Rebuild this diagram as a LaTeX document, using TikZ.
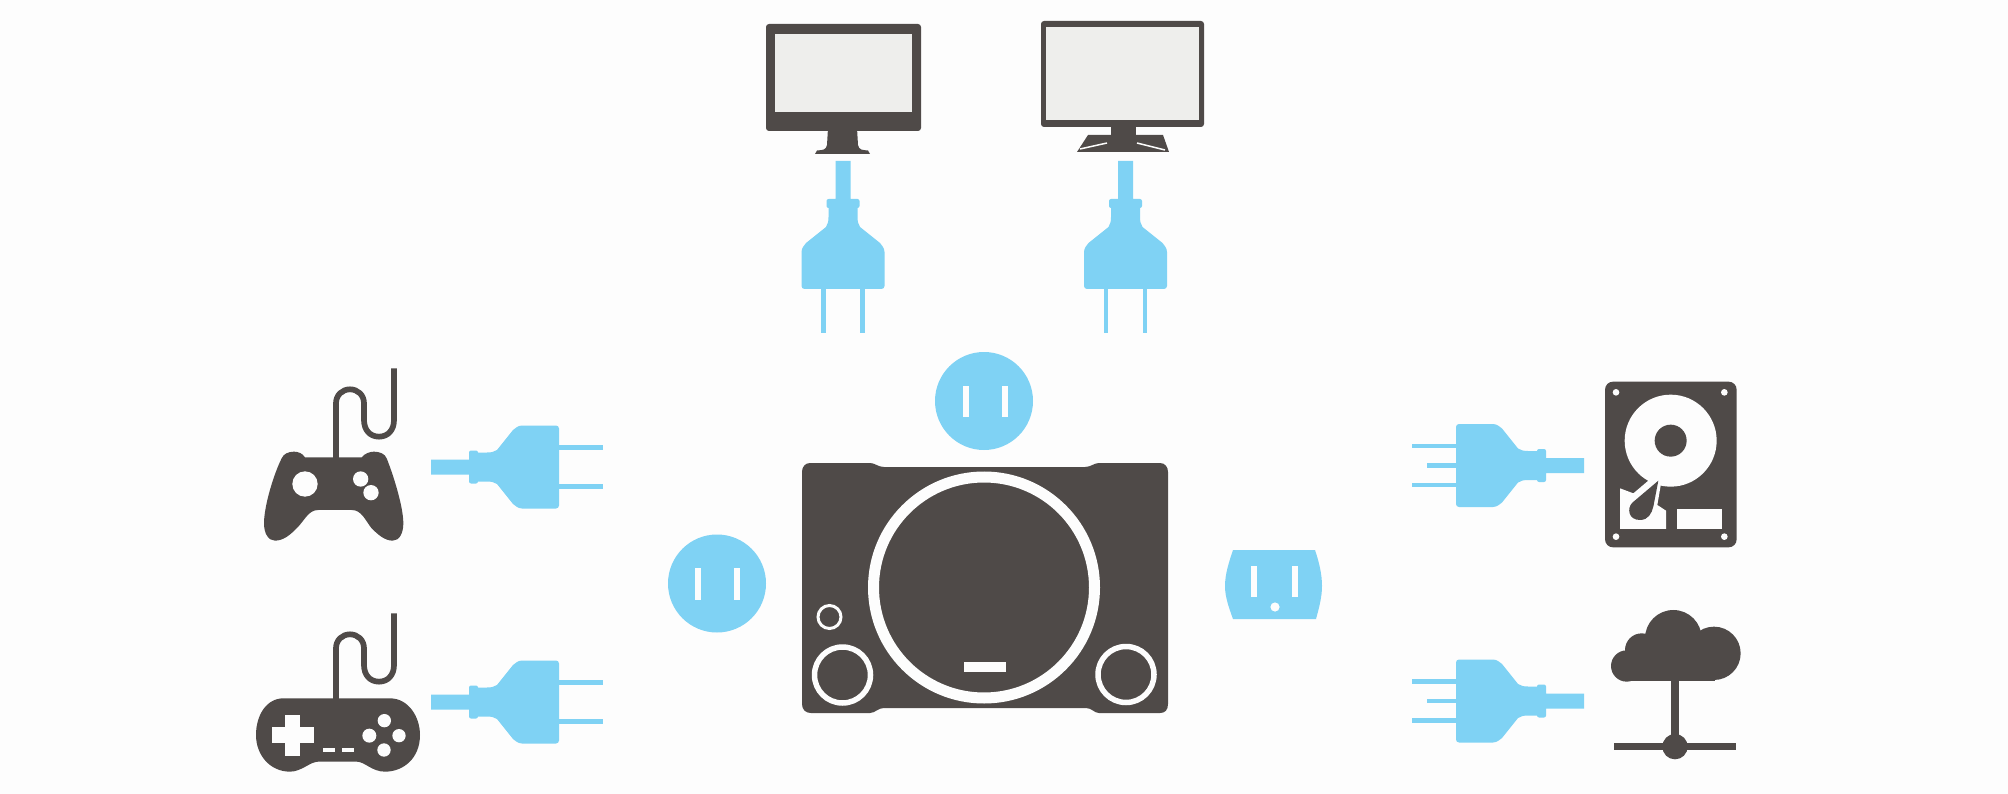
\documentclass[tikz,border=0pt]{standalone}
\definecolor{bgc}{HTML}{FDFDFD}
\definecolor{blu}{HTML}{7FD2F4}
\definecolor{drk}{HTML}{4F4A48}
\definecolor{scr}{HTML}{EEEEEC}
\tikzset{
  plugshape/.style={fill=blu,draw=none},
  dark/.style={fill=drk,draw=none},
  hole/.style={fill=bgc,draw=none},
  prong/.style={draw=blu,line width=4.5pt},
  cordline/.style={draw=drk,line width=5.7pt,line join=round},
  ringline/.style={draw=bgc,fill=none}
}
% #1 x, #2 y, #3 rotation
\newcommand{\plugbody}[3]{%
  \begin{scope}[shift={(#1,#2)},rotate=#3]
    \fill[plugshape] (0,-7.5) -- (38,-7.5) -- (38,-13) [rounded corners=2pt] -- (38,-16.5) -- (47,-16.5) [sharp corners] -- (47,-14.5) -- (56,-14.5)
      .. controls (60,-14.5) and (63,-15) .. (66,-17) -- (82,-37) [rounded corners=3pt] -- (88,-41.5) -- (128,-41.5) -- (128,41.5) -- (88,41.5) [sharp corners] -- (82,37) -- (66,17)
      .. controls (63,15) and (60,14.5) .. (56,14.5) -- (47,14.5) [rounded corners=2pt] -- (47,16.5) -- (38,16.5) [sharp corners] -- (38,13) -- (38,7.5) -- (0,7.5) -- cycle;
  \end{scope}}
\newcommand{\prongpair}[3]{%
  \begin{scope}[shift={(#1,#2)},rotate=#3]
    \draw[prong] (126,-19.5) -- (172,-19.5);
    \draw[prong] (126,19.5) -- (172,19.5);
  \end{scope}}
\newcommand{\prongmid}[3]{%
  \begin{scope}[shift={(#1,#2)},rotate=#3]
    \draw[prong] (126,0) -- (157,0);
  \end{scope}}
\newcommand{\padcord}{%
  \draw[cordline] (288,330) -- (288,160) .. controls (288,135) and (307,118) .. (330,118) .. controls (353,118) and (372,135) .. (372,160) -- (372,210) .. controls (372,240) and (390,260) .. (417,260) .. controls (444,260) and (462,240) .. (462,210) -- (462,55);}
\begin{document}
\begin{tikzpicture}[x=1pt,y=-1pt]
\useasboundingbox (0,0) rectangle (2008,794);
\fill[bgc] (0,0) rectangle (2008,794);

% ---------- monitor 1
\fill[dark,rounded corners=3pt] (766,24) rectangle (921,131);
\fill[scr] (775,34) rectangle (912,112);
\fill[dark] (828,128) -- (857,128) -- (858,145) .. controls (859,150) and (862,150) .. (868,150.5) -- (870,154) -- (815,154) -- (817,150.5) .. controls (823,150) and (826,150) .. (827,145) -- cycle;

% ---------- monitor 2
\fill[dark,rounded corners=3pt] (1041,21) rectangle (1204,127);
\fill[scr] (1046,27) rectangle (1199,120);
\fill[dark] (1111,125) rectangle (1136,152);
\fill[dark] (1088,135) -- (1163,135) -- (1169,152) -- (1077,152) -- cycle;
\draw[draw=bgc,line width=1.5pt] (1080,149) -- (1107,143);
\draw[draw=bgc,line width=1.5pt] (1137,143) -- (1165,150);

% ---------- plugs
\plugbody{843}{161}{-90}\prongpair{843}{161}{-90}
\plugbody{1125.5}{161}{-90}\prongpair{1125.5}{161}{-90}
\plugbody{431}{467}{0}\prongpair{431}{467}{0}
\plugbody{431}{702}{0}\prongpair{431}{702}{0}
\plugbody{1584}{465.5}{180}\prongpair{1584}{465.5}{180}\prongmid{1584}{465.5}{180}
\plugbody{1584}{701}{180}\prongpair{1584}{701}{180}\prongmid{1584}{701}{180}

% ---------- outlets
\fill[blu] (984,401) circle (49);
\fill[hole] (962.5,386) rectangle (968.5,417);
\fill[hole] (1001.5,386) rectangle (1007.5,417);
\fill[blu] (717,583.5) circle (49);
\fill[hole] (694.5,568) rectangle (700.5,600);
\fill[hole] (733.5,568) rectangle (739.5,600);
\fill[blu] (1233,550) -- (1315,550) .. controls (1319,562) and (1322,574) .. (1322,586) .. controls (1322,597) and (1319,608) .. (1316,619) -- (1233,619) .. controls (1229,608) and (1225,597) .. (1225,586) .. controls (1225,574) and (1229,562) .. (1233,550) -- cycle;
\fill[hole] (1251,566) rectangle (1257,597);
\fill[hole] (1291.5,566) rectangle (1297.5,597);
\fill[hole] (1275,607) circle (4.6);

% ---------- console
\fill[dark] (810,463) -- (870,463) .. controls (875,463) and (878,467) .. (884,467) -- (1085,467) .. controls (1091,467) and (1094,463) .. (1099,463) -- (1160,463) .. controls (1165,463) and (1168,467) .. (1168,472) -- (1168,704) .. controls (1168,710) and (1165,713) .. (1160,713) -- (1099,713) .. controls (1094,713) and (1092,708) .. (1086,708) -- (884,708) .. controls (878,708) and (875,713) .. (870,713) -- (811,713) .. controls (806,713) and (802,710) .. (802,704) -- (802,472) .. controls (802,467) and (805,463) .. (810,463) -- cycle;
\draw[ringline,line width=11pt] (984,587.5) circle (110.5);
\fill[hole] (964,662) rectangle (1006,672);
\draw[ringline,line width=3pt] (829.5,617) circle (11.5);
\draw[ringline,line width=5.5pt] (842.5,675) circle (28);
\draw[ringline,line width=5.5pt] (1126,674.5) circle (28);

% ---------- gamepad 1
\begin{scope}[shift={(240,350)},scale=1/3]
  \padcord
  \fill[dark] (195,322) -- (365,322) .. controls (375,310) and (390,305) .. (402,305) .. controls (420,305) and (435,312) .. (440,325) .. controls (460,375) and (490,470) .. (490,520) .. controls (490,550) and (478,572) .. (458,572) .. controls (435,572) and (415,555) .. (395,535) .. controls (375,510) and (365,480) .. (335,480) -- (235,480) .. controls (205,480) and (195,510) .. (170,535) .. controls (150,555) and (130,572) .. (105,572) .. controls (85,572) and (72,550) .. (72,520) .. controls (72,470) and (100,375) .. (125,325) .. controls (130,312) and (145,305) .. (162,305) .. controls (175,305) and (187,310) .. (195,322) -- cycle;
  \fill[hole] (195,402) circle (38);
  \fill[hole] (362,387) circle (23);
  \fill[hole] (393,428) circle (23);
\end{scope}

% ---------- gamepad 2
\begin{scope}[shift={(240,595)},scale=1/3]
  \padcord
\end{scope}
\begin{scope}[shift={(240,350)},scale=1/3]
  \fill[dark] (130,1045) -- (450,1045) .. controls (505,1045) and (540,1100) .. (540,1155) .. controls (540,1225) and (490,1265) .. (435,1265) .. controls (395,1265) and (375,1235) .. (350,1235) -- (235,1235) .. controls (210,1235) and (185,1265) .. (150,1265) .. controls (90,1265) and (48,1215) .. (48,1155) .. controls (48,1095) and (80,1045) .. (130,1045) -- cycle;
  \fill[hole] (135,1095) rectangle (180,1218);
  \fill[hole] (95,1132) rectangle (222,1180);
  \fill[hole] (433,1112) circle (20);
  \fill[hole] (388,1157) circle (21);
  \fill[hole] (477,1157) circle (20);
  \fill[hole] (432,1200) circle (20);
  \fill[hole] (248,1193) rectangle (285,1205);
  \fill[hole] (305,1193) rectangle (342,1205);
\end{scope}

% ---------- hard disk
\begin{scope}[shift={(1400,360)},scale=1/3]
  \fill[dark,rounded corners=8pt] (615,65) rectangle (1010,562);
  \fill[hole] (648,97) circle (10);
  \fill[hole] (973,97) circle (10);
  \fill[hole] (648,530) circle (10);
  \fill[hole] (973,530) circle (10);
  \fill[hole] (812,242) circle (138);
  \fill[dark] (812,242) circle (48);
  \fill[hole] (660,385) -- (700,400) -- (745,362) -- (775,355) -- (784,365) -- (772,435) -- (798,452) -- (798,507) -- (660,507) -- cycle;
  \fill[hole] (830,447) rectangle (967,508);
  \fill[dark] (775,362) -- (697,428) .. controls (680,445) and (685,480) .. (720,480) .. controls (745,480) and (755,460) .. (760,440) -- cycle;
\end{scope}

% ---------- cloud
\begin{scope}[shift={(1400,360)},scale=1/3]
  \fill[dark] (820,835) circle (85);
  \fill[dark] (942,880) circle (80);
  \fill[dark] (725,870) circle (50);
  \fill[dark] (680,918) circle (47);
  \fill[dark] (680,880) rectangle (945,963);
  \fill[dark] (814,950) rectangle (838,1160);
  \fill[dark] (643,1150) rectangle (1008,1170);
  \fill[dark] (825,1160) circle (38);
\end{scope}
\end{tikzpicture}
\end{document}
